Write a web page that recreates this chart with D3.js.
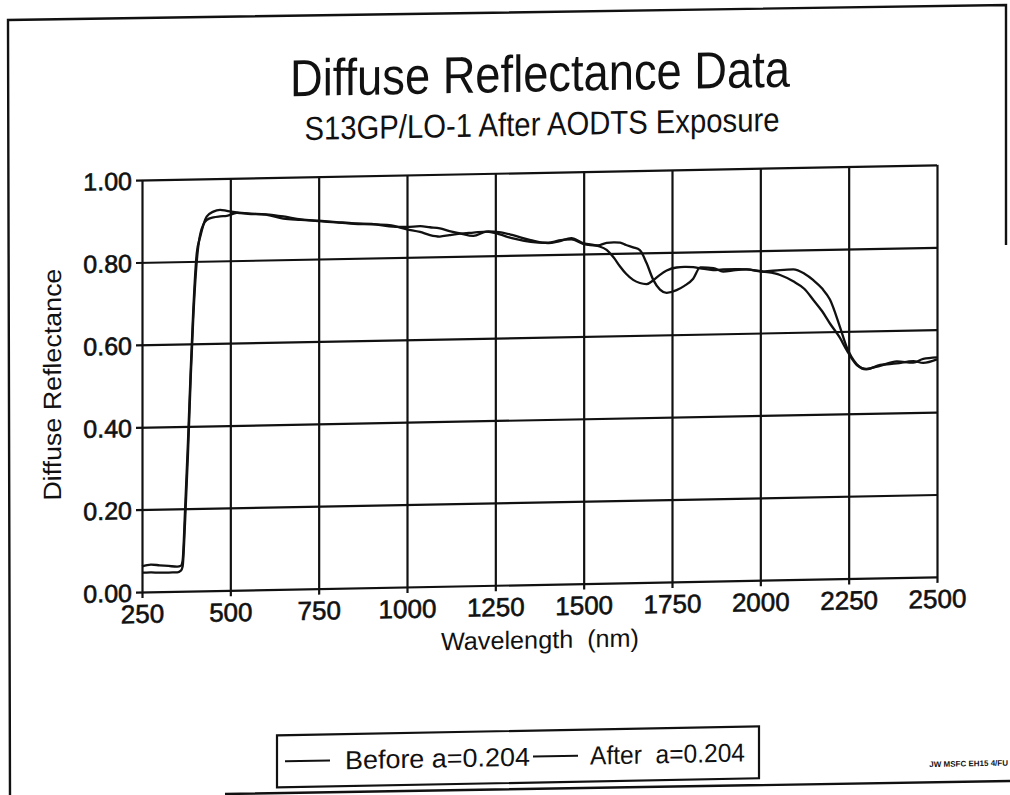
<!DOCTYPE html>
<html>
<head>
<meta charset="utf-8">
<script src="https://cdn.jsdelivr.net/npm/d3@7"></script>
<style>
  html, body { margin: 0; padding: 0; background: #fff; }
  svg { display: block; }
  text { font-family: "Liberation Sans", Arial, Helvetica, sans-serif; fill: #111; }
</style>
</head>
<body>
<svg id="chart" width="1010" height="795"></svg>
<script>
// Wavelength grid (nm) shared by both spectra
const wavelength = [250, 275, 300, 325, 350, 360, 365, 372, 380, 388, 395, 405, 415, 433, 452, 471, 490, 518,
  550, 600, 650, 700, 750, 800, 850, 900, 950, 1000, 1037, 1065, 1093, 1120, 1150, 1188, 1226, 1260,
  1300, 1350, 1400, 1430, 1465, 1500, 1540, 1565, 1585, 1603, 1620, 1640, 1659, 1678, 1697, 1716,
  1735, 1763, 1785, 1810, 1830, 1867, 1895, 1930, 1961, 2008, 2056, 2093, 2125, 2150, 2175, 2197,
  2225, 2244, 2273, 2300, 2339, 2386, 2433, 2461, 2500];

// Diffuse reflectance before exposure
const before = [0.062, 0.066, 0.064, 0.062, 0.060, 0.062, 0.075, 0.20, 0.36, 0.54, 0.68, 0.82, 0.86, 0.908, 0.920, 0.924, 0.921, 0.917,
  0.914, 0.911, 0.905, 0.897, 0.893, 0.889, 0.885, 0.883, 0.876, 0.874, 0.875, 0.872, 0.869, 0.862, 0.856, 0.849, 0.859, 0.857,
  0.849, 0.836, 0.828, 0.832, 0.839, 0.826, 0.819, 0.809, 0.790, 0.768, 0.750, 0.735, 0.727, 0.724, 0.733, 0.746,
  0.756, 0.763, 0.764, 0.763, 0.760, 0.755, 0.756, 0.756, 0.755, 0.749, 0.740, 0.724, 0.705, 0.678, 0.650, 0.620,
  0.585, 0.555, 0.518, 0.508, 0.515, 0.525, 0.521, 0.530, 0.533];

// Diffuse reflectance after exposure
const after = [0.047, 0.047, 0.046, 0.046, 0.046, 0.050, 0.060, 0.17, 0.33, 0.52, 0.66, 0.80, 0.866, 0.900, 0.906, 0.908, 0.909, 0.916,
  0.913, 0.910, 0.900, 0.896, 0.892, 0.888, 0.884, 0.882, 0.879, 0.868, 0.861, 0.853, 0.849, 0.852, 0.855, 0.857, 0.859, 0.852,
  0.841, 0.832, 0.829, 0.834, 0.836, 0.824, 0.820, 0.826, 0.827, 0.826, 0.820, 0.814, 0.807, 0.775, 0.734, 0.710,
  0.702, 0.708, 0.718, 0.735, 0.762, 0.760, 0.751, 0.754, 0.755, 0.749, 0.752, 0.753, 0.742, 0.726, 0.705, 0.678,
  0.612, 0.563, 0.520, 0.507, 0.517, 0.520, 0.525, 0.520, 0.528];

const xTicks = [250, 500, 750, 1000, 1250, 1500, 1750, 2000, 2250, 2500];
const yTicks = [0, 0.2, 0.4, 0.6, 0.8, 1.0];
const legendLabels = ["Before a=0.204", "After  a=0.204"];

const W = 1010, H = 795;
const plotLeft = 142, plotTop = 180, plotW = 795, plotH = 412;
const slope = -0.019; // the printed page sits slightly tilted

const svg = d3.select("#chart");
svg.append("rect").attr("width", W).attr("height", H).attr("fill", "#fff");

// page frame
svg.append("path")
  .attr("d", "M1006,245 L1006,5 L8,20 L10,800 M225,794 L1010,781")
  .attr("fill", "none").attr("stroke", "#111").attr("stroke-width", 2.4);

const page = svg.append("g")
  .attr("transform", `matrix(1,${slope},0,1,0,${-slope * plotLeft})`);

const x = d3.scaleLinear().domain([250, 2500]).range([plotLeft, plotLeft + plotW]);
const y = d3.scaleLinear().domain([0, 1]).range([plotTop + plotH, plotTop]);

// titles
page.append("text").attr("x", 540).attr("y", 99).attr("text-anchor", "middle")
  .attr("font-size", 52).attr("textLength", 500).attr("lengthAdjust", "spacingAndGlyphs")
  .text("Diffuse Reflectance Data");
page.append("text").attr("x", 542).attr("y", 143).attr("text-anchor", "middle")
  .attr("font-size", 33).attr("textLength", 475).attr("lengthAdjust", "spacingAndGlyphs")
  .text("S13GP/LO-1 After AODTS Exposure");

// y axis with full-width grid
const gy = page.append("g").attr("transform", `translate(${plotLeft},0)`)
  .call(d3.axisLeft(y).tickValues(yTicks).tickFormat(d3.format(".2f")).tickSizeOuter(0));
gy.select(".domain").remove();
gy.selectAll(".tick line").attr("x1", -6).attr("x2", plotW)
  .attr("stroke", "#111").attr("stroke-width", 2.2);
gy.selectAll(".tick text").attr("x", -10).attr("dy", "0.36em")
  .attr("font-size", 25).attr("fill", "#111").attr("stroke", "#111").attr("stroke-width", 0.6)
  .style("font-family", '"Liberation Sans", Arial, sans-serif');

// x axis with full-height grid
const gx = page.append("g").attr("transform", `translate(0,${plotTop + plotH})`)
  .call(d3.axisBottom(x).tickValues(xTicks).tickFormat(d3.format("d")).tickSizeOuter(0));
gx.select(".domain").remove();
gx.selectAll(".tick line").attr("y1", 6).attr("y2", -plotH)
  .attr("stroke", "#111").attr("stroke-width", 2.2);
gx.selectAll(".tick text").attr("y", 31).attr("dy", 0)
  .attr("font-size", 26).attr("fill", "#111").attr("stroke", "#111").attr("stroke-width", 0.6)
  .style("font-family", '"Liberation Sans", Arial, sans-serif');

// axis titles
page.append("text").attr("x", 540).attr("y", 656).attr("text-anchor", "middle")
  .attr("font-size", 25).attr("textLength", 198).attr("lengthAdjust", "spacingAndGlyphs")
  .style("white-space", "pre").text("Wavelength  (nm)");
page.append("text").attr("transform", "translate(61,383) rotate(-90)").attr("text-anchor", "middle")
  .attr("font-size", 25).attr("textLength", 232).attr("lengthAdjust", "spacingAndGlyphs")
  .text("Diffuse Reflectance");

// spectra
const line = d3.line().x((d, i) => x(wavelength[i])).y(d => y(d)).curve(d3.curveMonotoneX);
[before, after].forEach(s => {
  page.append("path").datum(s).attr("d", line)
    .attr("fill", "none").attr("stroke", "#111").attr("stroke-width", 2.3)
    .attr("stroke-linejoin", "round");
});

// legend
const lg = page.append("g");
lg.append("rect").attr("x", 277).attr("y", 738).attr("width", 482).attr("height", 52)
  .attr("fill", "none").attr("stroke", "#111").attr("stroke-width", 2.2);
const itemX = [285, 533];
const itemLen = [185, 155];
legendLabels.forEach((t, i) => {
  lg.append("line").attr("x1", itemX[i]).attr("x2", itemX[i] + 45).attr("y1", 764).attr("y2", 764)
    .attr("stroke", "#111").attr("stroke-width", 2);
  lg.append("text").attr("x", itemX[i] + (i === 0 ? 60 : 57)).attr("y", 773).attr("font-size", 26)
    .attr("textLength", itemLen[i]).attr("lengthAdjust", "spacingAndGlyphs")
    .style("white-space", "pre").text(t);
});

// plotter stamp
page.append("text").attr("x", 1008).attr("y", 782).attr("text-anchor", "end")
  .attr("font-size", 8).attr("font-weight", "bold").text("JW MSFC EH15 4/FU");
</script>
</body>
</html>
